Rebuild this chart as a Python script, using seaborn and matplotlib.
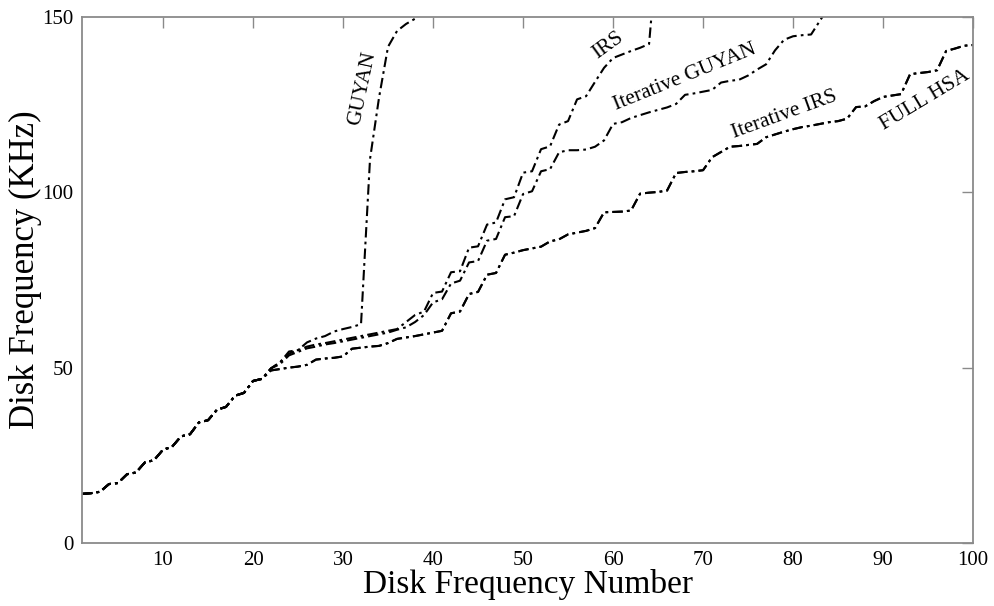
import matplotlib
matplotlib.use("Agg")
import matplotlib.pyplot as plt
import seaborn as sns
import pandas as pd

# ---- data ----
common_low = [14.0, 14.2, 14.6, 16.8, 17.1, 19.6, 20.1, 23.0, 23.6, 26.6, 27.4,
              30.4, 31.0, 34.4, 35.0, 38.0, 38.8, 42.0, 42.8, 46.2, 46.8]

full_hsa_tail = [49.2, 49.6, 50.0, 50.3, 50.8, 52.3, 52.6, 52.8, 53.2, 55.4,
                 55.7, 56.0, 56.2, 57.0, 58.2, 58.6, 59.0, 59.5, 60.0, 60.5,
                 65.5, 66.0, 71.0, 71.6, 76.5, 77.0, 82.2, 82.8, 83.5, 84.0,
                 84.5, 86.0, 86.6, 88.0, 88.5, 89.0, 89.8, 94.3, 94.4, 94.5,
                 94.8, 99.6, 99.9, 100.1, 100.5, 105.5, 105.8, 106.0, 106.3, 110.0,
                 111.5, 113.0, 113.2, 113.5, 113.8, 115.7, 116.5, 117.3, 118.0, 118.6,
                 119.0, 119.5, 120.0, 120.3, 121.0, 124.3, 124.5, 126.0, 127.2, 127.6,
                 128.0, 133.7, 134.0, 134.3, 134.8, 140.3, 141.0, 141.8, 142.0]

iterative_irs_tail = [49.2, 49.6, 50.0, 50.3, 50.8, 52.3, 52.6, 52.8, 53.2, 55.4,
                      55.7, 56.0, 56.2, 57.0, 58.2, 58.6, 59.0, 59.5, 60.0, 60.5,
                      65.5, 66.0, 71.0, 71.6, 76.5, 77.0, 82.2, 82.8, 83.5, 84.0,
                      84.5, 86.0, 86.6, 88.0, 88.5, 89.0, 89.8, 94.3, 94.4, 94.5,
                      94.8, 99.6, 99.9, 100.1, 100.5, 105.5, 105.8, 106.0, 106.3, 110.0,
                      111.5, 113.0, 113.2, 113.5, 113.8, 115.7, 116.5, 117.3, 118.0, 118.6,
                      119.0, 119.5, 120.0, 120.3, 121.0, 124.3, 124.5, 126.0, 127.2, 127.6,
                      128.0, 133.7, 134.0, 134.3, 134.8, 140.3, 141.0, 141.8, 142.0]

guyan_tail = [49.8, 51.5, 54.6, 55.0, 57.2, 58.3, 59.0, 60.3, 61.0, 61.6, 62.4,
              109.5, 127.0, 141.5, 146.0, 148.0, 149.5, 151.5, 153.0]

irs_tail = [49.8, 51.5, 54.0, 55.0, 56.0, 56.6, 57.0, 57.5, 58.0, 58.5, 59.0,
            59.5, 60.0, 60.5, 61.0, 63.0, 65.0, 66.0, 71.3, 71.7, 77.2, 77.5,
            84.2, 84.6, 90.8, 91.4, 98.0, 98.6, 105.6, 106.0, 112.3, 113.1,
            119.3, 120.3, 126.5, 127.4, 131.5, 135.5, 138.3, 139.3, 140.3,
            141.2, 142.3, 172.0]

iterative_guyan_tail = [49.8, 51.0, 53.5, 54.5, 55.5, 56.0, 56.6, 57.0, 57.5, 58.0,
                        58.5, 59.0, 59.5, 60.0, 60.8, 61.5, 63.0, 65.0, 68.6, 69.5,
                        74.0, 74.8, 80.0, 80.4, 86.2, 86.7, 92.9, 93.2, 99.5, 100.3,
                        106.0, 106.6, 111.4, 112.0, 112.0, 112.2, 113.0, 114.8, 119.5, 120.0,
                        121.2, 122.0, 122.8, 123.5, 124.2, 125.2, 127.8, 128.2, 128.7, 129.2,
                        131.3, 131.8, 132.1, 133.3, 135.0, 136.5, 140.5, 143.5, 144.5, 144.8,
                        145.0, 149.0, 153.0]

series_names = ["GUYAN", "IRS", "Iterative GUYAN", "Iterative IRS", "FULL HSA"]
series_tails = [guyan_tail, irs_tail, iterative_guyan_tail, iterative_irs_tail, full_hsa_tail]

x_ticks = [10, 20, 30, 40, 50, 60, 70, 80, 90, 100]
y_ticks = [0, 50, 100, 150]

# label positions (data coords) and rotations
label_x = [32.2, 59.5, 68.0, 79.0, 94.6]
label_y = [129.5, 142.0, 132.8, 122.0, 126.2]
label_rot = [78, 36, 22, 20, 31]

# ---- build long table ----
rows = []
for name, tail in zip(series_names, series_tails):
    vals = common_low + tail
    for i, v in enumerate(vals):
        rows.append({"series": name, "n": i + 1, "f": v})
df = pd.DataFrame(rows)

sns.set_theme(style="white")
plt.rcParams["font.family"] = ["Liberation Serif", "DejaVu Serif"]
plt.rcParams["text.color"] = "black"
plt.rcParams["axes.labelcolor"] = "black"

fig = plt.figure(figsize=(9.95, 6.06), dpi=100)
ax = fig.add_axes([0.0824, 0.104, 0.8956, 0.868])

for name in series_names:
    sub = df[df["series"] == name]
    sns.lineplot(data=sub, x="n", y="f", ax=ax, color="black",
                 linestyle=(0, (5, 2, 1.3, 2)), linewidth=1.5,
                 estimator=None, sort=False, legend=False)

ax.set_xlim(1, 100)
ax.set_ylim(0, 150)
ax.set_xticks(x_ticks)
ax.set_yticks(y_ticks)
ax.tick_params(direction="in", top=True, right=True, length=8, width=1,
               color="#8a8a8a", labelsize=15, pad=6, labelcolor="black")
for s in ax.spines.values():
    s.set_color("#8a8a8a")
    s.set_linewidth(1.3)

ax.set_xlabel("Disk Frequency Number", fontsize=24, labelpad=-1, color="black")
ax.set_ylabel("Disk Frequency (KHz)", fontsize=25, color="black")
ax.yaxis.set_label_coords(-0.045, 0.52)

for name, lx, ly, r in zip(series_names, label_x, label_y, label_rot):
    ax.text(lx, ly, name, rotation=r, rotation_mode="anchor",
            ha="center", va="center", fontsize=15.5, color="black")

fig.savefig("out.png", dpi=100)
